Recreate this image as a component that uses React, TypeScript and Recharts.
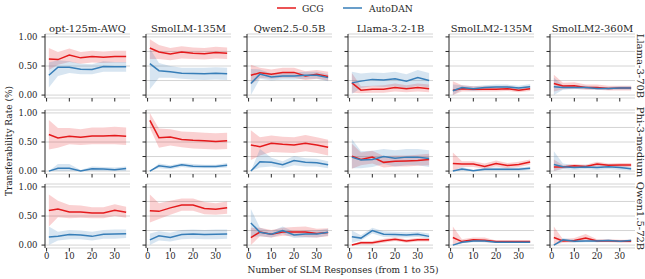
import React from 'react';
import { ComposedChart, Line, Area, XAxis, YAxis, CartesianGrid } from 'recharts';

const xs = [1, 5, 10, 15, 20, 25, 30, 35];
const slmNames = ['opt-125m-AWQ', 'SmolLM-135M', 'Qwen2.5-0.5B', 'Llama-3.2-1B', 'SmolLM2-135M', 'SmolLM2-360M'];
const targetNames = ['Llama-3-70B', 'Phi-3-medium', 'Qwen1.5-72B'];
const yTicks = [0, 0.25, 0.5, 0.75, 1];
const xTicks = [0, 10, 20, 30];

// Llama-3-70B row
const gcgLlama = [
  [0.62, 0.61, 0.69, 0.64, 0.665, 0.65, 0.665, 0.665],
  [0.81, 0.74, 0.705, 0.74, 0.72, 0.71, 0.73, 0.72],
  [0.34, 0.385, 0.36, 0.39, 0.39, 0.33, 0.36, 0.32],
  [0.21, 0.085, 0.1, 0.1, 0.13, 0.11, 0.13, 0.11],
  [0.085, 0.11, 0.1, 0.1, 0.1, 0.11, 0.085, 0.11],
  [0.2, 0.155, 0.16, 0.13, 0.13, 0.115, 0.12, 0.12],
];
const gcgLlamaLo = [
  [0.43, 0.52, 0.57, 0.54, 0.56, 0.55, 0.56, 0.56],
  [0.62, 0.62, 0.6, 0.63, 0.62, 0.61, 0.63, 0.62],
  [0.18, 0.3, 0.28, 0.3, 0.3, 0.26, 0.28, 0.25],
  [0.04, 0.03, 0.04, 0.04, 0.06, 0.05, 0.06, 0.05],
  [0, 0.06, 0.06, 0.06, 0.06, 0.07, 0.05, 0.07],
  [0.06, 0.1, 0.11, 0.09, 0.09, 0.08, 0.08, 0.08],
];
const gcgLlamaHi = [
  [0.81, 0.74, 0.8, 0.74, 0.76, 0.75, 0.76, 0.76],
  [0.96, 0.86, 0.81, 0.84, 0.82, 0.81, 0.83, 0.82],
  [0.52, 0.47, 0.44, 0.47, 0.47, 0.41, 0.43, 0.4],
  [0.38, 0.15, 0.16, 0.17, 0.2, 0.17, 0.2, 0.18],
  [0.24, 0.17, 0.15, 0.15, 0.15, 0.16, 0.13, 0.16],
  [0.35, 0.21, 0.22, 0.18, 0.18, 0.16, 0.16, 0.16],
];
const adLlama = [
  [0.34, 0.48, 0.48, 0.445, 0.44, 0.49, 0.485, 0.485],
  [0.54, 0.42, 0.4, 0.375, 0.37, 0.365, 0.375, 0.365],
  [0.2, 0.36, 0.31, 0.33, 0.33, 0.34, 0.34, 0.3],
  [0.21, 0.24, 0.27, 0.26, 0.28, 0.24, 0.3, 0.25],
  [0.075, 0.13, 0.11, 0.13, 0.14, 0.14, 0.12, 0.145],
  [0.145, 0.13, 0.13, 0.13, 0.115, 0.115, 0.12, 0.12],
];
const adLlamaLo = [
  [0.13, 0.33, 0.38, 0.36, 0.36, 0.4, 0.4, 0.4],
  [0.1, 0.3, 0.3, 0.28, 0.27, 0.26, 0.27, 0.26],
  [0, 0.28, 0.25, 0.27, 0.27, 0.28, 0.28, 0.24],
  [0.02, 0.12, 0.15, 0.14, 0.15, 0.12, 0.16, 0.13],
  [0, 0.09, 0.07, 0.09, 0.1, 0.1, 0.08, 0.1],
  [0, 0.09, 0.1, 0.1, 0.09, 0.09, 0.09, 0.09],
];
const adLlamaHi = [
  [0.56, 0.6, 0.58, 0.54, 0.53, 0.58, 0.57, 0.57],
  [0.8, 0.55, 0.5, 0.47, 0.47, 0.47, 0.48, 0.47],
  [0.45, 0.44, 0.37, 0.39, 0.39, 0.4, 0.4, 0.36],
  [0.4, 0.37, 0.39, 0.38, 0.4, 0.36, 0.43, 0.38],
  [0.18, 0.17, 0.15, 0.17, 0.18, 0.18, 0.16, 0.19],
  [0.3, 0.17, 0.16, 0.16, 0.14, 0.14, 0.15, 0.15],
];

// Phi-3-medium row
const gcgPhi = [
  [0.63, 0.57, 0.6, 0.58, 0.605, 0.605, 0.61, 0.6],
  [0.87, 0.575, 0.585, 0.545, 0.53, 0.52, 0.51, 0.52],
  [0.45, 0.42, 0.48, 0.46, 0.45, 0.48, 0.45, 0.41],
  [0.255, 0.2, 0.24, 0.15, 0.17, 0.175, 0.18, 0.2],
  [0.13, 0.12, 0.12, 0.08, 0.13, 0.095, 0.115, 0.155],
  [0.07, 0.07, 0.09, 0.08, 0.12, 0.1, 0.105, 0.105],
];
const gcgPhiLo = [
  [0.37, 0.4, 0.46, 0.45, 0.46, 0.46, 0.46, 0.45],
  [0.74, 0.4, 0.44, 0.41, 0.39, 0.38, 0.37, 0.38],
  [0.19, 0.27, 0.33, 0.32, 0.31, 0.34, 0.31, 0.27],
  [0.04, 0.1, 0.13, 0.06, 0.08, 0.08, 0.09, 0.1],
  [0, 0.07, 0.07, 0.04, 0.08, 0.05, 0.07, 0.11],
  [0, 0.04, 0.06, 0.05, 0.08, 0.07, 0.07, 0.07],
];
const gcgPhiHi = [
  [0.88, 0.74, 0.74, 0.72, 0.75, 0.75, 0.76, 0.75],
  [1.0, 0.73, 0.72, 0.68, 0.67, 0.66, 0.65, 0.66],
  [0.7, 0.58, 0.61, 0.59, 0.58, 0.62, 0.58, 0.54],
  [0.47, 0.32, 0.35, 0.26, 0.27, 0.27, 0.28, 0.3],
  [0.32, 0.17, 0.17, 0.13, 0.18, 0.14, 0.16, 0.2],
  [0.2, 0.1, 0.12, 0.11, 0.16, 0.13, 0.14, 0.14],
];
const adPhi = [
  [0, 0.05, 0.05, 0, 0.04, 0.035, 0.025, 0.045],
  [0, 0.09, 0.065, 0.11, 0.085, 0.08, 0.08, 0.1],
  [0, 0.16, 0.15, 0.11, 0.18, 0.15, 0.145, 0.11],
  [0.24, 0.19, 0.2, 0.25, 0.22, 0.24, 0.24, 0.215],
  [0, 0.035, 0.005, 0.03, 0.03, 0.03, 0.03, 0.05],
  [0.115, 0.075, 0.06, 0.07, 0.06, 0.075, 0.06, 0.04],
];
const adPhiLo = [
  [0, 0, 0, 0, 0, 0, 0, 0],
  [0, 0.05, 0.03, 0.07, 0.05, 0.05, 0.05, 0.06],
  [0, 0.06, 0.08, 0.05, 0.1, 0.08, 0.08, 0.05],
  [0.05, 0.05, 0.07, 0.12, 0.08, 0.1, 0.1, 0.07],
  [0, 0, 0, 0, 0, 0, 0, 0.02],
  [0, 0.03, 0.02, 0.03, 0.02, 0.03, 0.02, 0.01],
];
const adPhiHi = [
  [0, 0.12, 0.12, 0.02, 0.08, 0.07, 0.06, 0.08],
  [0, 0.13, 0.1, 0.14, 0.12, 0.11, 0.11, 0.14],
  [0, 0.38, 0.23, 0.17, 0.26, 0.22, 0.21, 0.17],
  [0.55, 0.34, 0.35, 0.38, 0.36, 0.38, 0.38, 0.36],
  [0, 0.07, 0.02, 0.06, 0.06, 0.06, 0.06, 0.08],
  [0.34, 0.13, 0.1, 0.11, 0.1, 0.12, 0.1, 0.07],
];

// Qwen1.5-72B row
const gcgQwen = [
  [0.595, 0.62, 0.57, 0.57, 0.55, 0.55, 0.6, 0.565],
  [0.59, 0.58, 0.64, 0.69, 0.69, 0.63, 0.615, 0.64],
  [0.13, 0.225, 0.185, 0.225, 0.225, 0.225, 0.2, 0.215],
  [0, 0.04, 0.04, 0.075, 0.1, 0.07, 0.09, 0.09],
  [0.13, 0.06, 0.09, 0.085, 0.06, 0.06, 0.06, 0.06],
  [0.13, 0.07, 0.08, 0.12, 0.07, 0.075, 0.065, 0.065],
];
const gcgQwenLo = [
  [0.32, 0.48, 0.46, 0.47, 0.46, 0.46, 0.5, 0.47],
  [0.39, 0.45, 0.52, 0.59, 0.59, 0.53, 0.52, 0.54],
  [0, 0.15, 0.13, 0.16, 0.15, 0.14, 0.13, 0.15],
  [0, 0.01, 0.01, 0.04, 0.07, 0.04, 0.06, 0.06],
  [0, 0.03, 0.06, 0.05, 0.04, 0.04, 0.04, 0.04],
  [0, 0.04, 0.05, 0.07, 0.05, 0.05, 0.04, 0.04],
];
const gcgQwenHi = [
  [0.87, 0.76, 0.69, 0.68, 0.65, 0.65, 0.7, 0.66],
  [0.87, 0.72, 0.76, 0.8, 0.8, 0.74, 0.72, 0.75],
  [0.3, 0.3, 0.26, 0.3, 0.31, 0.32, 0.28, 0.29],
  [0, 0.07, 0.07, 0.11, 0.13, 0.1, 0.12, 0.12],
  [0.32, 0.1, 0.13, 0.13, 0.08, 0.08, 0.08, 0.08],
  [0.32, 0.1, 0.12, 0.19, 0.1, 0.1, 0.09, 0.09],
];
const adQwen = [
  [0.14, 0.15, 0.18, 0.175, 0.15, 0.185, 0.19, 0.195],
  [0.09, 0.16, 0.13, 0.18, 0.19, 0.18, 0.185, 0.19],
  [0.38, 0.22, 0.185, 0.25, 0.175, 0.19, 0.19, 0.22],
  [0.145, 0.12, 0.25, 0.185, 0.18, 0.175, 0.185, 0.15],
  [0, 0.05, 0.07, 0.07, 0.05, 0.05, 0.05, 0.05],
  [0, 0.09, 0.065, 0.07, 0.07, 0.08, 0.065, 0.08],
];
const adQwenLo = [
  [0, 0.08, 0.1, 0.1, 0.08, 0.11, 0.11, 0.12],
  [0, 0.08, 0.06, 0.1, 0.11, 0.1, 0.1, 0.11],
  [0.14, 0.15, 0.13, 0.19, 0.12, 0.13, 0.13, 0.16],
  [0.04, 0.08, 0.2, 0.14, 0.13, 0.13, 0.14, 0.11],
  [0, 0.03, 0.05, 0.05, 0.04, 0.04, 0.04, 0.04],
  [0, 0.06, 0.04, 0.05, 0.05, 0.06, 0.05, 0.06],
];
const adQwenHi = [
  [0.32, 0.23, 0.26, 0.25, 0.23, 0.26, 0.27, 0.27],
  [0.2, 0.24, 0.21, 0.26, 0.27, 0.26, 0.27, 0.27],
  [0.62, 0.3, 0.24, 0.32, 0.23, 0.25, 0.25, 0.28],
  [0.25, 0.17, 0.3, 0.24, 0.23, 0.22, 0.23, 0.2],
  [0, 0.07, 0.09, 0.09, 0.06, 0.06, 0.06, 0.06],
  [0, 0.12, 0.09, 0.09, 0.09, 0.1, 0.08, 0.1],
];

const rowData = [
  { gcg: gcgLlama, gcgLo: gcgLlamaLo, gcgHi: gcgLlamaHi, ad: adLlama, adLo: adLlamaLo, adHi: adLlamaHi },
  { gcg: gcgPhi, gcgLo: gcgPhiLo, gcgHi: gcgPhiHi, ad: adPhi, adLo: adPhiLo, adHi: adPhiHi },
  { gcg: gcgQwen, gcgLo: gcgQwenLo, gcgHi: gcgQwenHi, ad: adQwen, adLo: adQwenLo, adHi: adQwenHi },
];

const RED = '#e41a1c';
const BLUE = '#377eb8';
const INK = '#262626';
const FONT = '"DejaVu Serif", serif';

const PLOT_W = 85;
const PLOT_H = 64;
const AXIS_W = 35;
const colLeft = (c: number) => 45 + 101 * c;
const rowTop = [34, 110, 184];

const Panel = ({ r, c }: { r: number; c: number }) => {
  const d = rowData[r];
  const data = xs.map((x, i) => ({
    x,
    gcg: d.gcg[c][i],
    gcgBand: [d.gcgLo[c][i], d.gcgHi[c][i]],
    ad: d.ad[c][i],
    adBand: [d.adLo[c][i], d.adHi[c][i]],
  }));
  const tickStyle = { fontSize: 8.5, fill: INK, fontFamily: FONT };
  return (
    <div style={{ position: 'absolute', left: colLeft(c) - AXIS_W, top: rowTop[r] - 5 }}>
      <ComposedChart width={AXIS_W + PLOT_W + 5} height={PLOT_H + 25} data={data}
        margin={{ top: 5, right: 5, bottom: 0, left: 0 }}>
        <CartesianGrid vertical={false} stroke="#d4d4d4" strokeWidth={1} />
        {/* bottom spine is hidden, only the tick marks remain */}
        <XAxis dataKey="x" type="number" domain={[-0.7, 36.7]} ticks={xTicks} allowDataOverflow
          height={20} tickSize={3.5} tickMargin={1.5} tick={tickStyle}
          axisLine={false} tickLine={{ stroke: INK }}
          tickFormatter={(v: number) => (r === 2 ? String(v) : '')} />
        <YAxis type="number" domain={[-0.05, 1.05]} ticks={yTicks} allowDataOverflow
          width={AXIS_W} tickSize={3.5} tickMargin={4} tick={tickStyle}
          axisLine={{ stroke: INK }} tickLine={{ stroke: INK }}
          tickFormatter={(v: number) => (c === 0 ? v.toFixed(2) : '')} />
        <Area type="linear" dataKey="gcgBand" stroke="none" fill={RED} fillOpacity={0.2}
          isAnimationActive={false} dot={false} activeDot={false} />
        <Line type="linear" dataKey="gcg" stroke={RED} strokeWidth={1.5} dot={false}
          activeDot={false} isAnimationActive={false} />
        <Area type="linear" dataKey="adBand" stroke="none" fill={BLUE} fillOpacity={0.2}
          isAnimationActive={false} dot={false} activeDot={false} />
        <Line type="linear" dataKey="ad" stroke={BLUE} strokeWidth={1.5} dot={false}
          activeDot={false} isAnimationActive={false} />
      </ComposedChart>
    </div>
  );
};

export default function App() {
  return (
    <div style={{ position: 'absolute', left: 0, top: 0, width: 645, height: 279, background: '#fff', fontFamily: FONT }}>
      {targetNames.map((_, r) => slmNames.map((__, c) => <Panel key={`${r}-${c}`} r={r} c={c} />))}
      <svg width={645} height={279} style={{ position: 'absolute', left: 0, top: 0, pointerEvents: 'none' }}
        fontFamily={FONT} fill={INK}>
        {/* legend */}
        <line x1={277} x2={296} y1={8} y2={8} stroke={RED} strokeWidth={1.5} />
        <text x={302} y={8} fontSize={9.2} dominantBaseline="central">GCG</text>
        <line x1={343} x2={362} y1={8} y2={8} stroke={BLUE} strokeWidth={1.5} />
        <text x={369} y={8} fontSize={9.2} dominantBaseline="central">AutoDAN</text>
        {/* column titles */}
        {slmNames.map((n, c) => (
          <text key={n} x={colLeft(c) + PLOT_W / 2} y={28} fontSize={10} textAnchor="middle" dominantBaseline="central">{n}</text>
        ))}
        {/* row titles */}
        {targetNames.map((n, r) => {
          const cy = rowTop[r] + PLOT_H / 2;
          return (
            <text key={n} x={640} y={cy} fontSize={10} textAnchor="middle" dominantBaseline="central"
              transform={`rotate(90, 640, ${cy})`}>{n}</text>
          );
        })}
        <text x={9} y={141} fontSize={9} textAnchor="middle" dominantBaseline="central"
          transform="rotate(-90, 9, 141)">Transferability Rate (%)</text>
        <text x={343} y={270} fontSize={9} textAnchor="middle" dominantBaseline="central">Number of SLM Responses (from 1 to 35)</text>
      </svg>
    </div>
  );
}
